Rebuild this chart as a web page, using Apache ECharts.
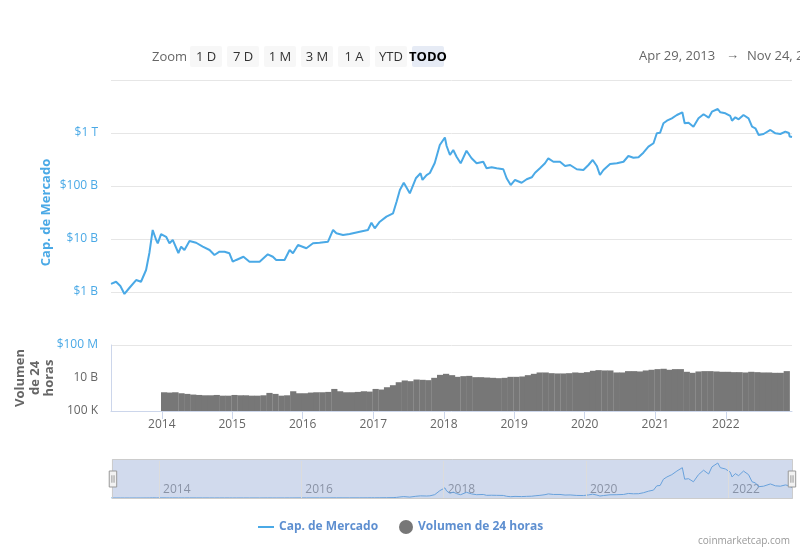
<!DOCTYPE html>
<html><head><meta charset="utf-8">
<script src="https://cdn.jsdelivr.net/npm/echarts@6/dist/echarts.min.js"></script>
<style>html,body{margin:0;padding:0;background:#fff}#c{width:800px;height:550px}</style>
</head><body><div id="c"></div>
<script>
// ---- Data ----
const capDates = [
 '2013-04-29','2013-05-25','2013-06-16','2013-07-07','2013-08-01','2013-09-05','2013-09-30','2013-10-26','2013-11-12','2013-11-29',
 '2013-12-17','2013-12-25','2014-01-11','2014-02-06','2014-02-23','2014-03-12','2014-04-10','2014-04-24','2014-05-11','2014-06-06',
 '2014-07-10','2014-08-13','2014-09-17','2014-10-12','2014-11-07','2014-12-03','2014-12-28','2015-01-14','2015-02-01','2015-03-10',
 '2015-04-10','2015-06-01','2015-07-13','2015-08-08','2015-08-25','2015-10-07','2015-11-02','2015-11-19','2015-12-15','2016-01-27',
 '2016-03-01','2016-04-04','2016-05-17','2016-06-12','2016-06-29','2016-08-02','2016-09-05','2016-10-27','2016-12-08','2016-12-26',
 '2017-01-12','2017-02-07','2017-03-13','2017-04-16','2017-05-04','2017-05-21','2017-06-10','2017-07-11','2017-08-11','2017-09-04',
 '2017-09-14','2017-10-05','2017-10-22','2017-11-16','2017-12-12','2018-01-07','2018-01-16','2018-02-02','2018-02-19','2018-03-08',
 '2018-03-29','2018-04-28','2018-05-24','2018-06-19','2018-07-23','2018-08-09','2018-09-04','2018-09-30','2018-11-03','2018-11-20',
 '2018-12-11','2019-01-02','2019-02-05','2019-03-03','2019-03-29','2019-04-15','2019-05-10','2019-06-05','2019-06-22','2019-07-18',
 '2019-08-21','2019-09-16','2019-10-12','2019-11-15','2019-12-19','2020-01-14','2020-02-05','2020-02-26','2020-03-13','2020-03-31',
 '2020-05-04','2020-06-08','2020-07-12','2020-08-06','2020-09-01','2020-09-27','2020-10-22','2020-11-17','2020-12-13','2020-12-30',
 '2021-01-16','2021-02-02','2021-02-20','2021-03-17','2021-04-12','2021-05-10','2021-05-22','2021-06-11','2021-07-06','2021-08-01',
 '2021-08-27','2021-09-22','2021-10-09','2021-11-08','2021-11-21','2021-12-17','2022-01-11','2022-01-20','2022-02-06','2022-02-23',
 '2022-03-20','2022-04-15','2022-05-03','2022-05-20','2022-06-06','2022-07-01','2022-08-05','2022-08-31','2022-09-25','2022-10-21',
 '2022-11-08','2022-11-12','2022-11-24'
];
// market cap, billions of USD
const capValuesB = [
 1.42,1.56,1.30,0.92,1.19,1.68,1.56,2.60,5.44,14.8,
 9.57,8.3,12.4,11.0,8.3,9.6,5.44,7.16,6.2,9.17,
 8.5,7.16,6.2,4.99,5.76,5.76,5.37,3.73,4.02,4.63,
 3.73,3.73,5.14,4.63,4.02,4.02,6.2,5.37,7.7,6.68,
 8.3,8.5,8.9,14.8,12.8,11.9,12.4,13.7,14.8,20.3,
 15.9,21.2,26.4,30.5,50.6,84,115,72.8,140,174,
 130,161,176,272,594,823,569,384,478,357,
 268,463,333,268,287,216,225,216,207,140,
 104,130,115,134,146,178,216,268,333,287,
 287,239,249,207,200,249,310,239,161,200,
 260,268,287,368,342,348,425,552,640,987,
 1014,1525,1707,1893,2186,2460,1525,1565,1315,1893,
 2254,1944,2525,2837,2460,2353,2094,1707,1977,1811,
 2186,1893,1315,1227,917,957,1140,987,957,1059,
 1000,860,841
];
// 24h volume, USD, one value per month from Jan 2014 to Nov 2022
const volStart = [2014, 0];
const volValues = [
 6.9e7,6.2e7,6.9e7,4.9e7,3.9e7,3.1e7,2.7e7,2.4e7,2.4e7,2.7e7,2.1e7,2.1e7,
 2.7e7,2.4e7,2.4e7,2.1e7,2.1e7,2.4e7,5.5e7,3.9e7,2.1e7,2.4e7,9.8e7,4.9e7,
 4.9e7,6.2e7,6.9e7,6.9e7,7.8e7,2.2e8,9.8e7,6.9e7,6.9e7,7.8e7,9.8e7,8.7e7,
 2.2e8,1.8e8,4.0e8,8.1e8,2.3e9,4.2e9,3.3e9,5.9e9,5.3e9,4.7e9,1.06e10,3.0e10,
 4.3e10,2.7e10,1.5e10,1.9e10,2.1e10,1.34e10,1.34e10,1.19e10,1.06e10,9.4e9,1.06e10,1.5e10,
 1.5e10,1.7e10,2.7e10,4.3e10,6.9e10,6.9e10,5.4e10,4.9e10,4.9e10,5.4e10,6.9e10,6.1e10,
 7.7e10,1.24e11,1.56e11,1.39e11,1.39e11,6.9e10,6.9e10,1.1e11,1.1e11,9.8e10,1.39e11,1.76e11,
 2.22e11,2.5e11,1.76e11,2.22e11,2.22e11,8.7e10,6.1e10,9.8e10,1.1e11,1.1e11,9.8e10,8.7e10,
 8.7e10,7.7e10,7.7e10,6.9e10,8.7e10,7.7e10,6.9e10,6.9e10,6.1e10,6.1e10,1.1e11
];
const rangeStart = '2013-04-29', rangeEnd = '2022-11-24';
const capTickLabels = {8:'$100 M',9:'$1 B',10:'$10 B',11:'$100 B',12:'$1 T',13:''};
const volTickLabels = {5:'100 K',10:'10 B',15:''};
const navYears = ['2014-01-01','2016-01-01','2018-01-01','2020-01-01','2022-01-01'];
const zoomButtons = ['1 D','7 D','1 M','3 M','1 A','YTD','TODO'];
const rangeLabels = ['Apr 29, 2013','Nov 24, 2022'];

// ---- build ----
const BLUE = '#4aa9e6';
const FONT = '"Open Sans", sans-serif';
const capData = capDates.map((d,i)=>[d, capValuesB[i]*1e9]);
const volData = volValues.map((v,i)=>{
  const dt = new Date(volStart[0], volStart[1]+i, 13);
  return [dt.getTime(), v];
});
const YEAR = 365.25*24*3600*1000;

const graphics = [];
graphics.push({type:'text', x:152, y:57, style:{text:'Zoom', verticalAlign:'middle', font:'13px '+FONT, fill:'#666'}});
zoomButtons.forEach((b,i)=>{
  const x = 190 + i*37, sel = (b==='TODO');
  graphics.push({type:'rect', shape:{x:x, y:46, width:32, height:21, r:2},
    style:{fill: sel ? '#e6ebf5' : '#f7f7f7'}});
  graphics.push({type:'text', x:x+16, y:57, style:{text:b, align:'center', verticalAlign:'middle',
    font:(sel?'bold ':'')+'13px '+FONT, fill: sel ? '#000' : '#333'}});
});
graphics.push({type:'text', x:639, y:56, style:{text:rangeLabels[0], verticalAlign:'middle', font:'13px '+FONT, fill:'#666'}});
graphics.push({type:'text', x:726, y:55, style:{text:'→', verticalAlign:'middle', font:'13px '+FONT, fill:'#666'}});
graphics.push({type:'text', x:747, y:56, style:{text:rangeLabels[1], verticalAlign:'middle', font:'13px '+FONT, fill:'#666'}});
graphics.push({type:'text', x:790, y:541, style:{text:'coinmarketcap.com', align:'right', verticalAlign:'middle', font:'10px '+FONT, fill:'#999'}});

const chart = echarts.init(document.getElementById('c'), null, {renderer:'canvas'});
chart.setOption({
  animation:false,
  textStyle:{fontFamily:FONT},
  graphic: graphics,
  legend:[
    {data:[{name:'Cap. de Mercado', icon:'path://M0,0H16V2H0Z'}], left:253, top:516, itemWidth:16, itemHeight:2,
     textStyle:{color:'#5e8fd0', fontWeight:'bold', fontSize:12}, selectedMode:false},
    {data:[{name:'Volumen de 24 horas', icon:'circle'}], left:394, top:515, itemWidth:14, itemHeight:14,
     textStyle:{color:'#5e8fd0', fontWeight:'bold', fontSize:12}, selectedMode:false}
  ],
  grid:[
    {left:111, right:8, top:80, height:265},
    {left:111, right:8, top:345, height:66},
    {left:111, right:8, top:461, height:37}
  ],
  xAxis:[
    {type:'time', gridIndex:0, min:rangeStart, max:rangeEnd, show:false},
    {type:'time', gridIndex:1, min:rangeStart, max:rangeEnd, minInterval:YEAR*0.99, maxInterval:YEAR*1.01,
     axisLine:{lineStyle:{color:'#ccd6eb'}}, axisTick:{show:true, length:8, lineStyle:{color:'#ccd6eb'}},
     axisLabel:{color:'#666', fontSize:12, margin:8, formatter:'{yyyy}', hideOverlap:false},
     splitLine:{show:false}},
    {type:'time', gridIndex:2, min:rangeStart, max:rangeEnd, minInterval:YEAR*0.99, maxInterval:YEAR*1.01,
     axisLine:{show:false}, axisTick:{show:false},
     axisLabel:{inside:true, align:'left', color:'#999', fontSize:12, margin:2, padding:[0,0,0,4],
       formatter:v=>{const y=new Date(v).getFullYear(); return y%2===0 ? String(y) : '';}},
     splitLine:{show:false}}
  ],
  yAxis:[
    {type:'log', logBase:10, gridIndex:0, min:1e8, max:1e13, interval:1,
     axisLine:{show:false}, axisTick:{show:false},
     splitLine:{lineStyle:{color:'#e6e6e6'}},
     axisLabel:{color:BLUE, fontSize:12, margin:13, formatter:v=>{const e=Math.round(Math.log10(v)); return capTickLabels[e]!==undefined?capTickLabels[e]:'';}},
     name:'Cap. de Mercado', nameLocation:'middle', nameGap:58, nameMoveOverlap:false,
     nameTextStyle:{color:BLUE, fontWeight:'bold', fontSize:13}},
    {type:'log', logBase:10, gridIndex:1, min:1e5, max:1e15, interval:5, splitNumber:2,
     axisLine:{show:true, lineStyle:{color:'#ccd6eb'}}, axisTick:{show:false}, splitLine:{show:false},
     axisLabel:{color:'#666', fontSize:12, margin:13, formatter:v=>{const e=Math.round(Math.log10(v)); return volTickLabels[e]!==undefined?volTickLabels[e]:'';}},
     name:'Volumen\nde 24\nhoras', nameLocation:'middle', nameGap:54, nameMoveOverlap:false,
     nameTextStyle:{color:'#666', fontWeight:'bold', fontSize:13, lineHeight:14.5}},
    {type:'value', gridIndex:2, min:0, show:false, splitLine:{show:false}}
  ],
  dataZoom:[{type:'slider', xAxisIndex:[0,1], start:0, end:100, left:111, right:8, top:459, height:40,
    filterMode:'none', showDataShadow:false, showDetail:false, brushSelect:false, moveHandleSize:0,
    backgroundColor:'rgba(0,0,0,0)', fillerColor:'rgba(102,133,194,0.3)', borderColor:'#cccccc',
    handleIcon:'path://M0,0H7V15H0Z M2.5,4V11 M4.5,4V11', handleSize:16,
    handleStyle:{color:'#f2f2f2', borderColor:'#999999', borderWidth:1}}],
  series:[
    {name:'Cap. de Mercado', type:'line', xAxisIndex:0, yAxisIndex:0, data:capData, symbol:'none',
     color:BLUE, lineStyle:{width:2, color:BLUE}, itemStyle:{color:BLUE}},
    {name:'Volumen de 24 horas', type:'bar', xAxisIndex:1, yAxisIndex:1, data:volData, barWidth:6.2,
     color:'#777777', itemStyle:{color:'#777777'}},
    {name:'nav', type:'line', xAxisIndex:2, yAxisIndex:2, data:capData, symbol:'none', silent:true,
     lineStyle:{width:1, color:'#6aaee6'}, areaStyle:{color:'rgba(74,169,230,0.05)'},
     markLine:{silent:true, symbol:'none', label:{show:false}, animation:false,
       lineStyle:{color:'#dcdcdc', type:'solid', width:1},
       data: navYears.map(d=>({xAxis:d}))}}
  ]
});
</script></body></html>
